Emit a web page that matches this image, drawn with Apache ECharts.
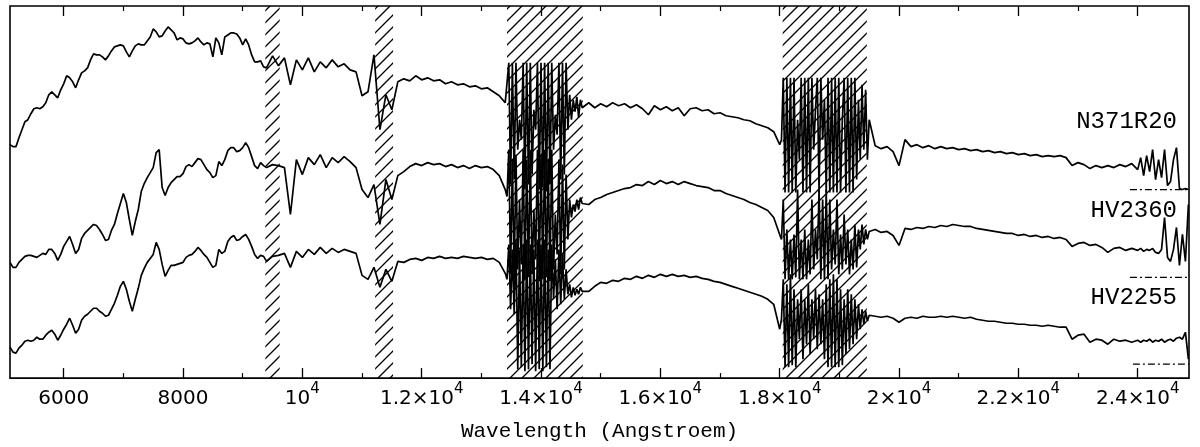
<!DOCTYPE html>
<html><head><meta charset="utf-8">
<script src="https://cdn.jsdelivr.net/npm/echarts@6/dist/echarts.min.js"></script>
<style>html,body{margin:0;padding:0;background:#fff}#c{width:1200px;height:447px}</style>
</head><body><div id="c"></div>
<script>
// Wavelength sampling (Angstroem)
const wavelength = [
5100,5150,5200,5250,5300,5350,5400,5450,5500,5550,5600,5650,5700,5750,5800,5850,5900,5950,6000,6050,6100,6150,6200,6250,6300,6350,6400,6450,6500,6550,6600,6650,6700,6750,6800,6850,6900,6950,7000,7050,7100,7150,7200,7250,7300,7350,7400,7450,7500,7550,7600,7650,7700,7750,7800,7850,7900,7950,8000,8050,8100,8150,8200,8250,8300,8350,8400,8450,8500,8550,8600,8650,8700,8750,8800,8850,8900,8950,9000,9050,9100,9150,9200,9250,9300,9350,
9400,9500,9600,9700,9800,9900,10000,10100,10200,10300,10400,10500,10600,10700,10800,10900,11000,11100,11200,11300,11400,11500,11600,11700,11800,11900,12000,12100,12200,12300,12400,12500,12600,12700,12800,12900,13000,13100,13200,13300,13400,
13430,13460,13490,13520,13550,13580,13610,13640,13670,13700,13730,13760,13790,13820,13850,13880,13910,13940,13970,14000,14030,14060,14090,14120,14150,14180,14210,14240,14270,14300,14330,14360,14390,14420,14450,14480,14510,14540,14570,14600,14630,14660,14690,
14800,14900,15000,15100,15200,15300,15400,15500,15600,15700,15800,15900,16000,16100,16200,16300,16400,16500,16600,16700,16800,16900,17000,17100,17200,17300,17400,17500,17600,17700,17800,17900,18000,
18030,18060,18090,18120,18150,18180,18210,18240,18270,18300,18330,18360,18390,18420,18450,18480,18510,18540,18570,18600,18630,18660,18690,18720,18750,18780,18810,18840,18870,18900,18930,18960,18990,19020,19050,19080,19110,19140,19170,19200,19230,19260,19290,19320,19350,19380,19410,19440,19470,19500,
19600,19700,19800,19900,20000,20100,20200,20300,20400,20500,20600,20700,20800,20900,21000,21100,21200,21300,21400,21500,21600,21700,21800,21900,22000,22100,22200,22300,22400,22500,22600,22700,22800,22900,23000,23100,23200,23300,23400,23500,23600,23700,23800,23900,24000,
24050,24100,24150,24200,24250,24300,24350,24400,24450,24500,24550,24600,24650,24700,24750,24800,24850
];

// Flux + offset (arbitrary units)
const fluxN371R20 = [
234,232,232,241,249,257,259,265,270,271,270,272,276,284,287,284,281,289,295,303,301,297,291,299,306,308,311,319,325,324,324,322,319,323,328,332,333,334,333,327,322,328,333,335,334,334,338,342,350,347,342,343,348,352,349,346,339,341,340,336,335,336,338,341,337,334,336,335,322,341,336,324,342,344,346,346,345,341,334,340,334,324,317,317,318,312,
311,323,313,321,294,319,309,321,307,317,311,319,312,315,309,307,283,287,324,249,284,269,297,300,298,303,299,301,298,299,295,297,294,295,292,293,290,291,287,283,276,
274,316,194,316,199,316,229,259,239,316,189,316,194,316,204,269,249,316,189,316,191,316,187,316,194,316,229,264,244,316,199,316,204,316,249,284,259,279,267,282,261,279,271,
276,271,275,272,276,273,275,271,274,270,264,273,269,272,268,271,263,270,271,268,269,265,266,263,262,261,259,258,255,253,251,247,234,
239,301,186,301,186,301,186,301,186,259,219,301,186,301,186,301,186,301,229,269,301,186,301,239,279,186,301,186,301,186,301,186,301,186,259,301,186,301,186,301,186,301,199,279,219,294,229,289,219,259,
233,230,232,227,213,239,232,234,231,233,230,232,230,231,229,230,228,229,227,228,226,227,225,226,224,225,223,224,222,223,222,223,221,213,216,214,210,213,211,213,211,214,212,215,209,
221,203,223,207,229,199,219,201,229,193,197,219,231,190,189,190,189
];
const fluxHV2360 = [
116,111,111,116,119,122,123,123,122,121,123,125,124,129,129,125,118,124,132,137,142,134,125,129,140,145,148,151,154,153,149,144,138,139,148,154,165,175,185,176,159,143,157,169,187,195,201,206,211,226,229,191,183,191,196,199,202,202,205,212,214,212,216,220,219,214,209,206,201,203,217,213,219,228,231,231,227,228,231,236,231,222,213,210,216,213,
211,214,213,211,164,219,204,221,214,224,211,221,216,222,217,211,189,181,194,154,199,179,203,207,212,215,213,216,214,215,212,214,211,213,210,213,211,212,209,203,189,
182,229,104,219,99,224,109,179,114,229,99,219,101,229,104,169,119,229,97,224,99,229,101,219,97,229,109,164,124,219,104,214,109,204,139,179,161,174,167,179,169,181,175,
174,179,181,184,186,188,190,191,194,193,197,194,198,195,197,194,197,195,193,192,191,188,188,185,183,181,179,176,174,171,168,161,144,
139,179,99,149,99,139,99,144,101,189,99,139,99,149,99,139,104,179,109,149,119,189,99,179,99,189,99,179,109,149,114,179,104,144,109,164,114,149,104,139,109,154,111,149,129,154,134,149,139,147,
149,146,147,143,133,150,149,151,150,152,151,153,152,154,153,152,152,150,149,148,147,146,145,145,143,144,142,143,141,142,140,141,139,132,135,136,133,134,131,126,130,131,128,130,128,
130,127,129,128,130,126,125,129,161,121,117,129,151,113,144,117,174
];
const fluxHV2255 = [
31,26,25,30,33,37,38,37,38,41,39,39,43,46,48,44,38,43,49,54,60,53,45,49,58,62,64,67,70,70,67,65,62,63,69,75,83,92,97,89,77,67,79,90,103,110,116,120,124,136,129,114,102,108,113,113,114,115,116,121,123,124,127,131,128,124,121,116,111,113,129,125,127,137,141,143,138,139,142,144,139,132,124,120,123,122,
117,122,123,125,111,127,121,129,124,131,125,130,126,129,127,125,103,99,111,91,109,97,117,116,119,120,118,121,120,122,120,121,120,122,121,120,121,119,120,116,105,
99,134,69,129,64,139,9,129,11,134,7,139,9,134,14,129,7,139,9,134,7,139,11,129,9,134,79,119,69,129,74,124,79,109,84,94,81,91,83,89,84,91,87,
87,92,96,95,98,97,100,99,102,100,103,101,104,102,104,102,103,101,102,100,99,97,96,94,92,90,88,86,84,82,79,74,49,
59,99,11,94,11,104,13,89,11,79,39,89,19,79,34,94,24,79,39,89,29,84,34,79,19,94,11,99,11,104,11,99,11,89,13,79,24,89,29,84,34,79,39,74,49,69,54,67,57,63,
62,61,62,60,56,60,61,60,62,61,61,62,61,62,61,60,61,59,58,57,57,56,55,55,54,54,53,53,52,53,52,51,51,39,43,44,36,39,38,34,39,37,38,36,38,
36,38,37,39,36,38,37,39,36,38,39,37,40,41,39,46,19
];

const seriesNames = ['N371R20', 'HV2360', 'HV2255'];
const zeroLevels = [189, 101, 14];
const zeroStart = [23870, 23870, 23920];
const telluricBands = [[9380, 9620], [11220, 11520], [13430, 14700], [18050, 19460]];
const majorTicks = [6000, 8000, 10000, 12000, 14000, 16000, 18000, 20000, 22000, 24000];
const majorTickLabels = ['6000', '8000', '10{s|4}', '1.2×10{s|4}', '1.4×10{s|4}', '1.6×10{s|4}', '1.8×10{s|4}', '2×10{s|4}', '2.2×10{s|4}', '2.4×10{s|4}'];
const minorTicks = [7000, 9000, 11000, 13000, 15000, 17000, 19000, 21000, 23000];
const xMin = 5100, xMax = 24860;
const labelY = [122, 211, 298];

// hatch pattern
const hc = document.createElement('canvas');
hc.width = 12; hc.height = 12;
const hx = hc.getContext('2d');
hx.strokeStyle = '#000'; hx.lineWidth = 1.3;
hx.beginPath();
hx.moveTo(0, 12); hx.lineTo(12, 0);
hx.moveTo(-2, 2); hx.lineTo(2, -2);
hx.moveTo(10, 14); hx.lineTo(14, 10);
hx.stroke();

const fluxes = [fluxN371R20, fluxHV2360, fluxHV2255];
const lineSeries = fluxes.map((f, si) => ({
  type: 'line', name: seriesNames[si], xAxisIndex: 0, yAxisIndex: 0,
  data: wavelength.map((w, i) => [w, f[i]]),
  showSymbol: false, symbol: 'none', smooth: false, z: 5,
  lineStyle: { color: '#000', width: 1.7 },
  markArea: si === 0 ? {
    silent: true, z: 1,
    itemStyle: { color: { image: hc, repeat: 'repeat' }, opacity: 1 },
    label: { show: false },
    data: telluricBands.map(b => [{ xAxis: b[0] }, { xAxis: b[1] }])
  } : undefined
}));
const zeroSeries = zeroLevels.map((z, si) => ({
  type: 'line', xAxisIndex: 0, yAxisIndex: 0,
  data: [[zeroStart[si], z], [xMax, z]],
  showSymbol: false, symbol: 'none', z: 4,
  lineStyle: { color: '#000', width: 1.2, type: [7, 3, 2, 3] }
}));

const baseX = { type: 'value', min: xMin, max: xMax, splitLine: { show: false }, axisLine: { show: false } };
const chart = echarts.init(document.getElementById('c'), null, { renderer: 'canvas' });
chart.setOption({
  animation: false,
  backgroundColor: '#fff',
  grid: { left: 10, right: 11, top: 6, bottom: 68, show: true, borderColor: '#000', borderWidth: 1.6, containLabel: false },
  xAxis: [
    Object.assign({}, baseX, {
      position: 'bottom',
      name: 'Wavelength (Angstroem)', nameLocation: 'middle', nameGap: 30,
      nameTextStyle: { fontFamily: 'Liberation Mono', fontSize: 21, color: '#000' },
      axisTick: { show: true, inside: true, length: 10, customValues: majorTicks, lineStyle: { color: '#000', width: 1.3 } },
      axisLabel: {
        show: true, customValues: majorTicks, margin: 4,
        formatter: v => { const i = majorTicks.indexOf(v); return i >= 0 ? majorTickLabels[i] : ''; },
        fontFamily: 'DejaVu Sans', fontSize: 20, color: '#000', lineHeight: 34,
        rich: { s: { fontFamily: 'DejaVu Sans', fontSize: 15, lineHeight: 15, verticalAlign: 'top', color: '#000' } }
      }
    }),
    Object.assign({}, baseX, {
      position: 'bottom',
      axisTick: { show: true, inside: true, length: 5, customValues: minorTicks, lineStyle: { color: '#000', width: 1.2 } },
      axisLabel: { show: false }
    }),
    Object.assign({}, baseX, {
      position: 'top',
      axisTick: { show: true, inside: true, length: 10, customValues: majorTicks, lineStyle: { color: '#000', width: 1.3 } },
      axisLabel: { show: false }
    }),
    Object.assign({}, baseX, {
      position: 'top',
      axisTick: { show: true, inside: true, length: 5, customValues: minorTicks, lineStyle: { color: '#000', width: 1.2 } },
      axisLabel: { show: false }
    })
  ],
  yAxis: [{
    type: 'value', min: 0, max: 373,
    axisLine: { show: false }, axisTick: { show: false }, axisLabel: { show: false }, splitLine: { show: false }
  }],
  graphic: seriesNames.map((n, i) => ({
    type: 'text', x: 1177, y: labelY[i], z: 10,
    style: { text: n, font: '24px "Liberation Mono"', fill: '#000', align: 'right', verticalAlign: 'middle' }
  })),
  series: lineSeries.concat(zeroSeries)
});
</script></body></html>
